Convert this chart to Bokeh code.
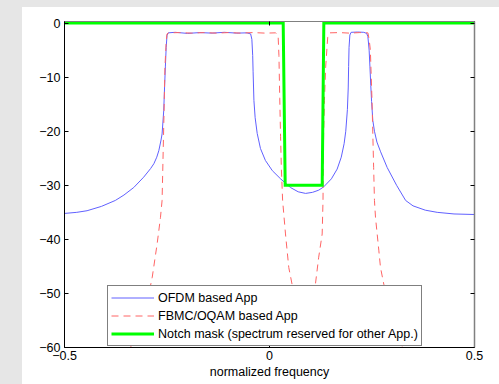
from bokeh.plotting import figure
from bokeh.models import (Range1d, LinearAxis, FixedTicker, Legend, LegendItem)
from bokeh.embed import file_html
from bokeh.resources import INLINE

# ---------------- data ----------------
ofdm_freq = [-0.500, -0.470, -0.445, -0.410, -0.376, -0.355, -0.331, -0.307, -0.290,
             -0.282, -0.275, -0.270, -0.265, -0.262, -0.258, -0.256, -0.254, -0.252,
             -0.250, -0.247, -0.230, -0.200, -0.170, -0.140, -0.110, -0.080, -0.055,
             -0.046, -0.043, -0.041, -0.040, -0.038, -0.035, -0.030, -0.022, -0.010,
             0.007, 0.027, 0.051, 0.070, 0.088, 0.105, 0.120, 0.132, 0.151, 0.165,
             0.175, 0.182, 0.186, 0.190, 0.192, 0.193, 0.194, 0.196, 0.199, 0.215,
             0.230, 0.237, 0.240, 0.243, 0.245, 0.247, 0.249, 0.252, 0.256, 0.262,
             0.271, 0.287, 0.310, 0.332, 0.350, 0.380, 0.409, 0.450, 0.500]
ofdm_db = [-35.2, -35.0, -34.7, -33.9, -32.8, -31.8, -30.4, -28.5, -26.9,
           -26.0, -24.8, -23.6, -21.8, -20.5, -16.2, -12.0, -8.1, -4.5,
           -2.3, -1.8, -1.7, -1.9, -1.75, -1.85, -1.7, -1.85, -1.8,
           -2.0, -3.0, -6.0, -9.0, -14.3, -17.5, -20.4, -23.2, -25.4,
           -27.3, -28.8, -30.4, -31.2, -31.5, -31.3, -30.9, -30.3, -28.8, -27.0,
           -24.8, -22.3, -20.0, -16.0, -12.0, -8.0, -4.5, -2.2, -1.7, -1.65,
           -1.7, -1.9, -2.5, -5.0, -8.1, -11.5, -14.5, -18.0, -20.0, -22.0,
           -23.8, -26.7, -30.0, -32.8, -33.8, -34.6, -35.0, -35.3, -35.4]

fbmc_freq = [-0.360, -0.339, -0.319, -0.298, -0.286, -0.274, -0.266, -0.262, -0.260,
             -0.258, -0.255, -0.252, -0.250, -0.246, -0.220, -0.190, -0.160, -0.130,
             -0.100, -0.070, -0.040, -0.010, 0.015, 0.021, 0.023, 0.025, 0.027,
             0.029, 0.032, 0.039, 0.047, 0.055, 0.066, 0.080, 0.085, 0.090, 0.102,
             0.112, 0.120, 0.1285, 0.1305, 0.132, 0.134, 0.137, 0.142, 0.146, 0.170,
             0.195, 0.220, 0.240, 0.243, 0.246, 0.250, 0.254, 0.256, 0.2585, 0.2666,
             0.2707, 0.2788, 0.300, 0.3244, 0.345]
fbmc_db = [-64.0, -60.0, -56.3, -51.4, -47.0, -40.8, -36.0, -32.8, -26.0,
           -19.2, -8.1, -3.5, -2.0, -1.8, -1.75, -1.85, -1.75, -1.85,
           -1.75, -1.85, -1.75, -1.85, -1.8, -2.3, -6.0, -14.0, -21.0,
           -27.0, -32.8, -39.0, -45.2, -48.3, -52.0, -57.0, -64.0, -56.0, -52.0,
           -48.3, -43.3, -39.0, -32.8, -20.5, -14.3, -8.1, -2.6, -1.8, -1.75,
           -1.85, -1.75, -1.8, -3.0, -5.0, -14.3, -26.7, -32.8, -35.9, -42.0,
           -45.2, -48.3, -53.0, -60.0, -64.0]

mask_freq = [-0.5, 0.0334, 0.0383, 0.1285, 0.1325, 0.5]
mask_db = [0, 0, -30, -30, 0, 0]

x_ticks = [-0.5, 0, 0.5]
x_tick_labels = ["\u22120.5", "0", "0.5"]
y_ticks = [-60, -50, -40, -30, -20, -10, 0]
y_tick_labels = ["\u221260", "\u221250", "\u221240", "\u221230", "\u221220", "\u221210", "0"]
series_names = ["OFDM based App", "FBMC/OQAM based App",
                "Notch mask (spectrum reserved for other App.)"]
x_label = "normalized frequency"

# ---------------- figure ----------------
FONT = "Liberation Sans"
FS = "12.5px"

p = figure(width=499, height=384, output_backend="svg", toolbar_location=None,
           x_range=Range1d(-0.5, 0.5), y_range=Range1d(-60, 0.3),
           min_border_left=64, min_border_right=25, min_border_top=21,
           min_border_bottom=37, background_fill_color="white",
           border_fill_color=None)
# light-gray screenshot background at the left and top edges
p.styles = {"background": "linear-gradient(#e6e6e6 7px, rgba(0,0,0,0) 7px), "
                          "linear-gradient(to right, #e6e6e6 22px, #ffffff 22px)"}
p.outline_line_color = None
p.grid.visible = False

def style_axis(ax, ticks, labels, line_color, show_labels=True):
    ax.ticker = FixedTicker(ticks=ticks)
    ax.major_tick_in = 4
    ax.major_tick_out = 0
    ax.minor_tick_line_color = None
    ax.axis_line_color = line_color
    ax.major_tick_line_color = "black"
    ax.major_label_text_font = FONT
    ax.major_label_text_color = "black"
    if show_labels:
        ax.major_label_overrides = {t: l for t, l in zip(ticks, labels)}
        ax.major_label_text_font_size = FS
        ax.major_label_standoff = 3
    else:
        ax.major_label_overrides = {t: "" for t in ticks}
        ax.major_label_text_font_size = "1px"
        ax.major_label_standoff = 0

style_axis(p.xaxis[0], x_ticks, x_tick_labels, "black")
style_axis(p.yaxis[0], y_ticks, y_tick_labels, "black")
p.yaxis[0].major_label_standoff = 4
p.xaxis[0].axis_label = x_label
p.xaxis[0].axis_label_standoff = 2
p.xaxis[0].axis_label_text_font = FONT
p.xaxis[0].axis_label_text_font_size = FS
p.xaxis[0].axis_label_text_font_style = "normal"
p.xaxis[0].axis_label_text_color = "black"

right_ax = LinearAxis()
style_axis(right_ax, y_ticks, y_tick_labels, "#808080", show_labels=False)
right_ax.axis_line_width = 1.5
p.add_layout(right_ax, "right")

top_ax = LinearAxis()
style_axis(top_ax, x_ticks, x_tick_labels, "#808080", show_labels=False)
p.add_layout(top_ax, "above")

# ---------------- series ----------------
r_ofdm = p.line(ofdm_freq, ofdm_db, line_color="#6060ff", line_width=1)
r_fbmc = p.line(fbmc_freq, fbmc_db, line_color="#ff6464", line_width=1,
                line_dash="7 5")
r_mask = p.line(mask_freq, mask_db, line_color="#00ff00", line_width=3,
                line_join="miter")

legend = Legend(items=[LegendItem(label=series_names[0], renderers=[r_ofdm]),
                       LegendItem(label=series_names[1], renderers=[r_fbmc]),
                       LegendItem(label=series_names[2], renderers=[r_mask])],
                location=(43, 1), glyph_width=43, glyph_height=17,
                label_height=17, label_standoff=4, padding=3, spacing=1,
                label_text_font=FONT, label_text_font_size=FS,
                label_text_color="black", border_line_color="black",
                border_line_width=1, background_fill_color="white",
                background_fill_alpha=1.0)
p.add_layout(legend)

open("out.html", "w").write(file_html(p, INLINE))
